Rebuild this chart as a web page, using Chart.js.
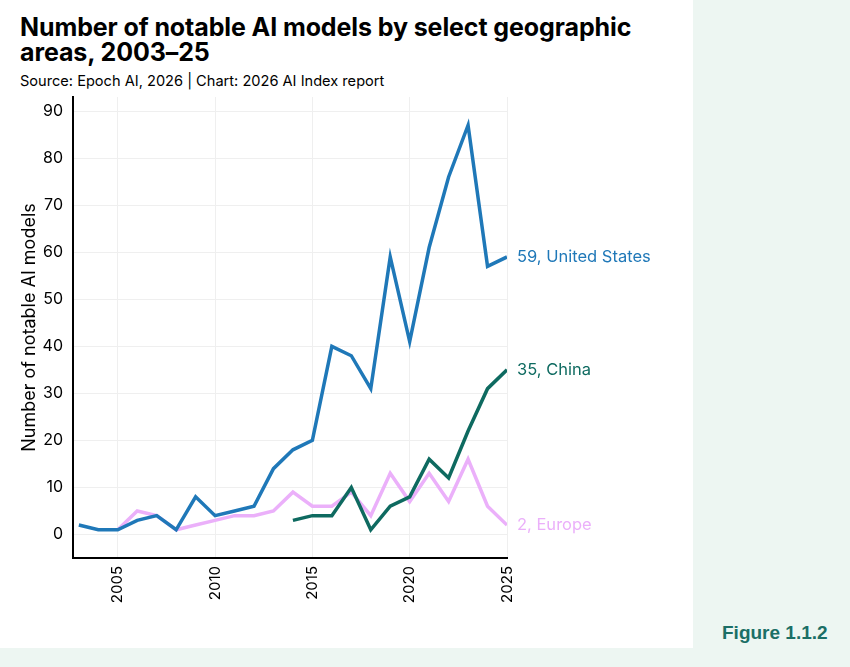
<!DOCTYPE html>
<html>
<head>
<meta charset="utf-8">
<script src="https://cdn.jsdelivr.net/npm/chart.js@4.4.1/dist/chart.umd.min.js"></script>
<style>
  body { margin: 0; background: #edf6f2; width: 850px; height: 667px; overflow: hidden; }
  #panel { position: absolute; left: 0; top: 0; width: 693px; height: 648px; background: #fff; }
  #title { position: absolute; left: 20px; top: 15px; margin: 0; font: bold 25px/25px Inter, "Liberation Sans", sans-serif; color: #000; letter-spacing: -0.1px; white-space: nowrap; }
  #subtitle { position: absolute; left: 20px; top: 73px; margin: 0; font: 14.6px/16px Inter, "Liberation Sans", sans-serif; color: #000; }
  #fig { position: absolute; left: 722px; top: 622px; font: bold 19px/22px "Liberation Sans", Arial, sans-serif; color: #1b6f66; }
  canvas { position: absolute; left: 0; top: 0; }
</style>
</head>
<body>
<div id="panel">
  <h1 id="title">Number of notable AI models by select geographic<br>areas, 2003–25</h1>
  <p id="subtitle">Source: Epoch AI, 2026 | Chart: 2026 AI Index report</p>
  <canvas id="chart" width="693" height="648"></canvas>
</div>
<div id="fig">Figure 1.1.2</div>
<script>
// years on the x axis
var years = [2003, 2004, 2005, 2006, 2007, 2008, 2009, 2010, 2011, 2012, 2013, 2014,
             2015, 2016, 2017, 2018, 2019, 2020, 2021, 2022, 2023, 2024, 2025];

// number of notable models per year (null = no data)
var usValues     = [2, 1, 1, 3, 4, 1, 8, 4, 5, 6, 14, 18, 20, 40, 38, 31, 59, 41, 61, 76, 87, 57, 59];
var chinaValues  = [null, null, null, null, null, null, null, null, null, null, null,
                    3, 4, 4, 10, 1, 6, 8, 16, 12, 22, 31, 35];
var europeValues = [null, null, 1, 5, 4, 1, 2, 3, 4, 4, 5, 9, 6, 6, 9, 4, 13, 7, 13, 7, 16, 6, 2];

var seriesNames = ["United States", "China", "Europe"];
var xTicks = [2005, 2010, 2015, 2020, 2025];
var yTicks = [0, 10, 20, 30, 40, 50, 60, 70, 80, 90];

var fontFamily = "Inter, 'Liberation Sans', sans-serif";

function toPoints(values) {
    var pts = [];
    for (var i = 0; i < years.length; i++) {
        if (values[i] !== null) pts.push({ x: years[i], y: values[i] });
    }
    return pts;
}

// label at the end of each line, e.g. "59, United States"
var endLabels = {
    id: "endLabels",
    afterDatasetsDraw: function(chart) {
        var ctx = chart.ctx;
        ctx.save();
        ctx.font = "16.5px " + fontFamily;
        ctx.textBaseline = "middle";
        ctx.textAlign = "left";
        chart.data.datasets.forEach(function(ds, i) {
            var meta = chart.getDatasetMeta(i);
            var last = meta.data[meta.data.length - 1];
            var val = ds.data[ds.data.length - 1].y;
            ctx.fillStyle = ds.borderColor;
            ctx.fillText(val + ", " + ds.label, last.x + 10, last.y);
        });
        ctx.restore();
    }
};

var ctx = document.getElementById("chart");

var chart = new Chart(ctx, {
    type: "line",
    data: {
        datasets: [
            { label: seriesNames[0], data: toPoints(usValues), borderColor: "#1f78b8" },
            { label: seriesNames[1], data: toPoints(chinaValues), borderColor: "#0e6a60" },
            { label: seriesNames[2], data: toPoints(europeValues), borderColor: "#ebb0fa" }
        ]
    },
    options: {
        responsive: false,
        animation: false,
        layout: { padding: { top: 97, right: 186, left: 0, bottom: 0 } },
        elements: {
            line: { borderWidth: 3.5, tension: 0, borderJoinStyle: "miter" },
            point: { radius: 0 }
        },
        plugins: {
            legend: { display: false },
            tooltip: { enabled: false }
        },
        scales: {
            x: {
                type: "linear",
                min: 2002.7,
                max: 2025,
                afterBuildTicks: function(scale) {
                    scale.ticks = xTicks.map(function(v) { return { value: v }; });
                },
                afterFit: function(scale) { scale.height = 90; },
                grid: { color: "#efefef", lineWidth: 1, drawTicks: false },
                border: { color: "#000", width: 2 },
                ticks: {
                    minRotation: 90,
                    maxRotation: 90,
                    padding: 8,
                    color: "#000",
                    font: { family: fontFamily, size: 15 },
                    callback: function(v) { return String(v); }
                }
            },
            y: {
                min: -5,
                max: 93,
                afterBuildTicks: function(scale) {
                    scale.ticks = yTicks.map(function(v) { return { value: v }; });
                },
                afterFit: function(scale) { scale.width = 73; },
                grid: { color: "#efefef", lineWidth: 1, drawTicks: false },
                border: { color: "#000", width: 2 },
                ticks: {
                    padding: 10,
                    color: "#000",
                    font: { family: fontFamily, size: 16 }
                },
                title: {
                    display: true,
                    text: "Number of notable AI models",
                    color: "#000",
                    font: { family: fontFamily, size: 18 },
                    padding: { top: 19, bottom: 0 }
                }
            }
        }
    },
    plugins: [endLabels]
});
</script>
</body>
</html>
